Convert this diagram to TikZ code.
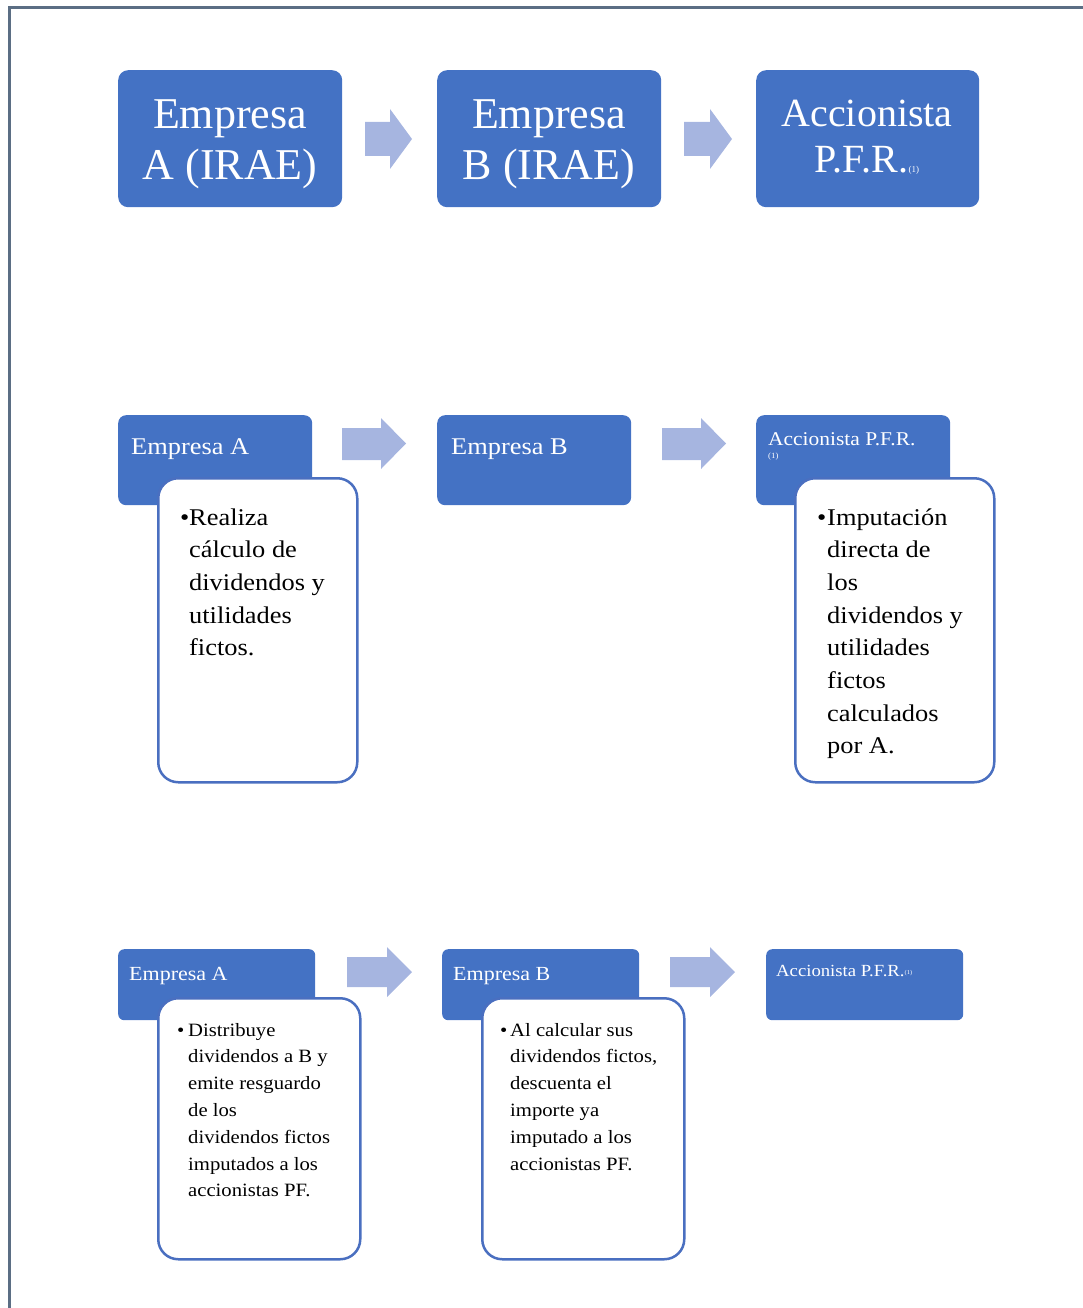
\documentclass[tikz,border=0pt]{standalone}
\usepackage{fontspec}
\setmainfont{Liberation Serif}
\newfontfamily\widefont[FakeStretch=1.1]{Liberation Serif}
\definecolor{boxblue}{HTML}{4472C4}
\definecolor{wborder}{HTML}{4A6FC0}
\definecolor{arrowblue}{HTML}{A6B5E0}
\definecolor{framegray}{HTML}{5B6E84}
\begin{document}
\begin{tikzpicture}[x=1pt,y=-1pt,
  bbox/.style={fill=boxblue, draw=none, anchor=north west, inner sep=0},
  wbox/.style={fill=white, draw=wborder, line width=2.5pt, rounded corners=20pt, anchor=north west, inner sep=0},
  toptext/.style={anchor=base, inner sep=0, text=white},
  lbl/.style={anchor=base west, inner sep=0, text=white},
  body/.style={anchor=base west, inner sep=0, text=black},
  chev/.style={fill=arrowblue, draw=none}]
\useasboundingbox (0,0) rectangle (1082,1308);
\draw[framegray, line width=3pt] (1090,8) -- (9,8) -- (9,1320);

% ---------- Row 1 ----------
\node[bbox, rounded corners=10pt, minimum width=224pt, minimum height=137pt] (a1) at (118,70) {};
\node[bbox, rounded corners=10pt, minimum width=224pt, minimum height=137pt] (b1) at (437,70) {};
\node[bbox, rounded corners=10pt, minimum width=223pt, minimum height=137pt] (c1) at (756,70) {};
\node[toptext] (a1t) at (230,129) {\parbox[t]{220pt}{\centering\fontsize{44}{51}\selectfont Empresa\\A (IRAE)}};
\node[toptext] (b1t) at (549,129) {\parbox[t]{220pt}{\centering\fontsize{44}{51}\selectfont Empresa\\B (IRAE)}};
\node[toptext] (c1t) at (867,127) {\parbox[t]{220pt}{\centering\fontsize{40}{46}\selectfont Accionista\\P.F.R.{\fontsize{9}{9}\selectfont(1)}}};
\fill[chev] (365,122) -- (390,122) -- (390,109) -- (412,139) -- (390,169) -- (390,156) -- (365,156) -- cycle;
\fill[chev] (684,122) -- (710,122) -- (710,109) -- (732,139) -- (710,169) -- (710,156) -- (684,156) -- cycle;

% ---------- Row 2 ----------
\node[bbox, rounded corners=8pt, minimum width=194pt, minimum height=90pt] (a2) at (118,415) {};
\node[bbox, rounded corners=8pt, minimum width=194pt, minimum height=90pt] (b2) at (437,415) {};
\node[bbox, rounded corners=8pt, minimum width=194pt, minimum height=90pt] (c2) at (756,415) {};
\node[wbox, minimum width=199pt, minimum height=304pt] (wa2) at (157,477) {};
\node[wbox, minimum width=199pt, minimum height=304pt] (wc2) at (794,477) {};
\node[lbl, font=\widefont\fontsize{24}{28}\selectfont] (a2t) at (131,454) {Empresa A};
\node[lbl, font=\widefont\fontsize{24}{28}\selectfont] (b2t) at (451,454) {Empresa B};
\node[lbl, font=\widefont\fontsize{19.5}{22}\selectfont] (c2t) at (768,445) {Accionista P.F.R.};
\node[lbl, font=\widefont\fontsize{8}{9}\selectfont] (c2n) at (768,458) {(1)};
\fill[chev] (342,428) -- (381,428) -- (381,418) -- (406,443.5) -- (381,469) -- (381,460) -- (342,460) -- cycle;
\fill[chev] (662,428) -- (701,428) -- (701,418) -- (726,443.5) -- (701,469) -- (701,460) -- (662,460) -- cycle;
\node[body, font=\widefont\fontsize{24}{28}\selectfont] (wa2b) at (180,525) {•};
\node[body] (wa2t) at (189,525) {\parbox[t]{170pt}{\widefont\fontsize{24}{32.7}\selectfont Realiza\\cálculo de\\dividendos y\\utilidades\\fictos.}};
\node[body, font=\widefont\fontsize{24}{28}\selectfont] (wc2b) at (817,525) {•};
\node[body] (wc2t) at (827,525) {\parbox[t]{170pt}{\widefont\fontsize{24}{32.7}\selectfont Imputación\\directa de\\los\\dividendos y\\utilidades\\fictos\\calculados\\por A.}};

% ---------- Row 3 ----------
\node[bbox, rounded corners=6pt, minimum width=197pt, minimum height=71pt] (a3) at (118,949) {};
\node[bbox, rounded corners=6pt, minimum width=197pt, minimum height=71pt] (b3) at (442,949) {};
\node[bbox, rounded corners=6pt, minimum width=197pt, minimum height=71pt] (c3) at (766,949) {};
\node[wbox, minimum width=202pt, minimum height=261pt] (wa3) at (157,997) {};
\node[wbox, minimum width=202pt, minimum height=261pt] (wb3) at (481,997) {};
\node[lbl, font=\widefont\fontsize{20}{22}\selectfont] (a3t) at (129,980) {Empresa A};
\node[lbl, font=\widefont\fontsize{20}{22}\selectfont] (b3t) at (453,980) {Empresa B};
\node[lbl, font=\widefont\fontsize{17}{20}\selectfont] (c3t) at (776,976) {Accionista P.F.R.\raisebox{2pt}{\fontsize{6}{6}\selectfont(1)}};
\fill[chev] (347,957) -- (387,957) -- (387,947) -- (412,972) -- (387,997) -- (387,987) -- (347,987) -- cycle;
\fill[chev] (670,957) -- (710,957) -- (710,947) -- (735,972) -- (710,997) -- (710,987) -- (670,987) -- cycle;
\node[body, font=\widefont\fontsize{18.8}{22}\selectfont] (wa3b) at (177,1036) {•};
\node[body] (wa3t) at (188,1036) {\parbox[t]{170pt}{\widefont\fontsize{18.8}{26.8}\selectfont Distribuye\\dividendos a B y\\emite resguardo\\de los\\dividendos fictos\\imputados a los\\accionistas PF.}};
\node[body, font=\widefont\fontsize{18.8}{22}\selectfont] (wb3b) at (500,1036) {•};
\node[body] (wb3t) at (510,1036) {\parbox[t]{170pt}{\widefont\fontsize{18.8}{26.8}\selectfont Al calcular sus\\dividendos fictos,\\descuenta el\\importe ya\\imputado a los\\accionistas PF.}};
\end{tikzpicture}
\end{document}
